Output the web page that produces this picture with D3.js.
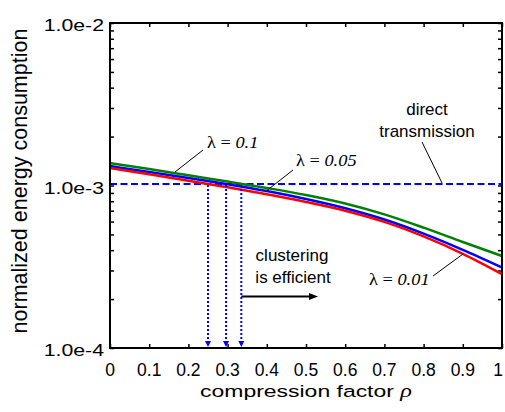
<!DOCTYPE html>
<html>
<head>
<meta charset="utf-8">
<script src="https://cdn.jsdelivr.net/npm/d3@7"></script>
<style>
  html, body { margin: 0; padding: 0; background: #fff; }
  svg { display: block; }
</style>
</head>
<body>
<svg id="chart" width="505" height="412"></svg>
<script>
// ---- data ----
const rho = [0, 0.1, 0.2, 0.3, 0.4, 0.5, 0.6, 0.7, 0.8, 0.9, 1.0];
const lambda01  = [1.375e-3, 1.263e-3, 1.155e-3, 1.057e-3, 9.65e-4, 8.74e-4, 7.75e-4, 6.64e-4, 5.50e-4, 4.49e-4, 3.68e-4];
const lambda005 = [1.318e-3, 1.211e-3, 1.112e-3, 1.019e-3, 9.25e-4, 8.26e-4, 7.25e-4, 6.18e-4, 5.06e-4, 4.02e-4, 3.13e-4];
const lambda001 = [1.282e-3, 1.172e-3, 1.070e-3, 9.76e-4, 8.83e-4, 7.92e-4, 7.00e-4, 5.97e-4, 4.86e-4, 3.80e-4, 2.85e-4];
const directTransmission = 1.02e-3;
const crossings = [0.25, 0.296, 0.335];
const xTicks = [0, 0.1, 0.2, 0.3, 0.4, 0.5, 0.6, 0.7, 0.8, 0.9, 1];
const xTickLabels = ["0", "0.1", "0.2", "0.3", "0.4", "0.5", "0.6", "0.7", "0.8", "0.9", "1"];
const yMajorTicks = [1e-4, 1e-3, 1e-2];
const yTickLabels = ["1.0e-4", "1.0e-3", "1.0e-2"];

const seriesList = [
  { name: "λ = 0.1",  values: lambda01,  color: "#008000" },
  { name: "λ = 0.05", values: lambda005, color: "#0000ff" },
  { name: "λ = 0.01", values: lambda001, color: "#ff0000" }
];

// ---- layout ----
const svg = d3.select("#chart");
const L = 110, R = 502, T = 23, B = 348;
const x = d3.scaleLinear().domain([0, 1]).range([L, R]);
const y = d3.scaleLog().domain([1e-4, 1e-2]).range([B, T]);
const sans = "'Liberation Sans', Arial, Helvetica, sans-serif";
const serif = "'Liberation Serif', 'Times New Roman', serif";

// minor ticks for log axis
const yAllTicks = [];
[1e-4, 1e-3].forEach(d => { for (let k = 1; k <= 9; k++) yAllTicks.push(d * k); });
yAllTicks.push(1e-2);

// axes (ticks inward)
const gB = svg.append("g").attr("transform", `translate(0,${B})`)
  .call(d3.axisBottom(x).tickValues(xTicks).tickSizeInner(-4).tickSizeOuter(0).tickFormat(""));
const gT = svg.append("g").attr("transform", `translate(0,${T})`)
  .call(d3.axisTop(x).tickValues(xTicks).tickSizeInner(-4).tickSizeOuter(0).tickFormat(""));
const gL = svg.append("g").attr("transform", `translate(${L},0)`)
  .call(d3.axisLeft(y).tickValues(yAllTicks).tickSizeInner(-4).tickSizeOuter(0).tickFormat(""));
const gR = svg.append("g").attr("transform", `translate(${R},0)`)
  .call(d3.axisRight(y).tickValues(yAllTicks).tickSizeInner(-4).tickSizeOuter(0).tickFormat(""));
[gB, gT, gL, gR].forEach(g => {
  g.select(".domain").remove();
  g.selectAll(".tick line").attr("stroke", "#000").attr("stroke-width", 1.5);
});

// x tick labels
svg.append("g").selectAll("text").data(xTicks).join("text")
  .attr("x", (d) => Math.min(x(d), 498))
  .attr("y", 376)
  .attr("text-anchor", "middle")
  .attr("font-family", sans).attr("font-size", 17.5)
  .text((d, i) => xTickLabels[i]);

// y tick labels
svg.append("g").selectAll("text").data(yMajorTicks).join("text")
  .attr("transform", (d) => `translate(104,${y(d) + 8}) scale(1.25,1)`)
  .attr("text-anchor", "end")
  .attr("font-family", sans).attr("font-size", 17)
  .text((d, i) => yTickLabels[i]);

// axis titles
const xt = svg.append("text")
  .attr("transform", `translate(${(L + R) / 2},397) scale(1.35,1)`)
  .attr("text-anchor", "middle")
  .attr("font-family", sans).attr("font-size", 17);
xt.append("tspan").text("compression factor ");
xt.append("tspan").attr("font-style", "italic").attr("font-family", serif).attr("font-size", 18).text("ρ");

svg.append("text")
  .attr("transform", `translate(27,181) rotate(-90)`)
  .attr("text-anchor", "middle")
  .attr("font-family", sans).attr("font-size", 21.5)
  .text("normalized energy consumption");

// direct transmission dashed line
svg.append("line")
  .attr("x1", x(0)).attr("x2", x(1))
  .attr("y1", y(directTransmission)).attr("y2", y(directTransmission))
  .attr("stroke", "#0000ff").attr("stroke-width", 2).attr("stroke-dasharray", "7,3.5");

// curves
const line = d3.line().x((d, i) => x(rho[i])).y(d => y(d)).curve(d3.curveMonotoneX);
seriesList.forEach(s => {
  svg.append("path").datum(s.values)
    .attr("fill", "none").attr("stroke", s.color).attr("stroke-width", 2.5)
    .attr("d", line);
});

// dotted crossing arrows
crossings.forEach(c => {
  svg.append("line")
    .attr("x1", x(c)).attr("x2", x(c))
    .attr("y1", y(directTransmission) + 1).attr("y2", B - 6)
    .attr("stroke", "#0000ff").attr("stroke-width", 2).attr("stroke-dasharray", "2,2");
  svg.append("path")
    .attr("d", `M${x(c) - 3},${B - 7} L${x(c) + 3},${B - 7} L${x(c)},${B - 1} Z`)
    .attr("fill", "#0000ff");
});

// "clustering is efficient" arrow
const arrowY = 296.5;
svg.append("line")
  .attr("x1", x(crossings[2])).attr("x2", 310)
  .attr("y1", arrowY).attr("y2", arrowY)
  .attr("stroke", "#000").attr("stroke-width", 2);
svg.append("path")
  .attr("d", `M309,${arrowY - 3.5} L318,${arrowY} L309,${arrowY + 3.5} Z`)
  .attr("fill", "#000");

svg.append("text").attr("x", 292).attr("y", 261)
  .attr("text-anchor", "middle").attr("font-family", sans).attr("font-size", 17)
  .text("clustering");
svg.append("text").attr("x", 293).attr("y", 283)
  .attr("text-anchor", "middle").attr("font-family", sans).attr("font-size", 17)
  .text("is efficient");

// direct transmission label
svg.append("text").attr("x", 427).attr("y", 115)
  .attr("text-anchor", "middle").attr("font-family", sans).attr("font-size", 17)
  .text("direct");
svg.append("text").attr("x", 427).attr("y", 137)
  .attr("text-anchor", "middle").attr("font-family", sans).attr("font-size", 17)
  .text("transmission");
svg.append("line").attr("x1", 422).attr("y1", 142).attr("x2", 442).attr("y2", 183)
  .attr("stroke", "#000").attr("stroke-width", 1);

// lambda labels
function lamLabel(px, py, value) {
  const t = svg.append("text")
    .attr("transform", `translate(${px},${py}) scale(1.08,1)`)
    .attr("font-family", serif).attr("font-size", 17);
  t.append("tspan").text("λ");
  t.append("tspan").text(" = ");
  t.append("tspan").attr("font-style", "italic").text(value);
}
lamLabel(207, 148, "0.1");
lamLabel(296, 166, "0.05");
lamLabel(369, 285, "0.01");

svg.append("line").attr("x1", 203).attr("y1", 150).attr("x2", 175).attr("y2", 172)
  .attr("stroke", "#000").attr("stroke-width", 1);
svg.append("line").attr("x1", 293).attr("y1", 170).attr("x2", 265).attr("y2", 192)
  .attr("stroke", "#000").attr("stroke-width", 1);
svg.append("line").attr("x1", 433).attr("y1", 276).attr("x2", 463).attr("y2", 254)
  .attr("stroke", "#000").attr("stroke-width", 1);

// frame
svg.append("rect").attr("x", L).attr("y", T).attr("width", R - L).attr("height", B - T)
  .attr("fill", "none").attr("stroke", "#000").attr("stroke-width", 2);
</script>
</body>
</html>
